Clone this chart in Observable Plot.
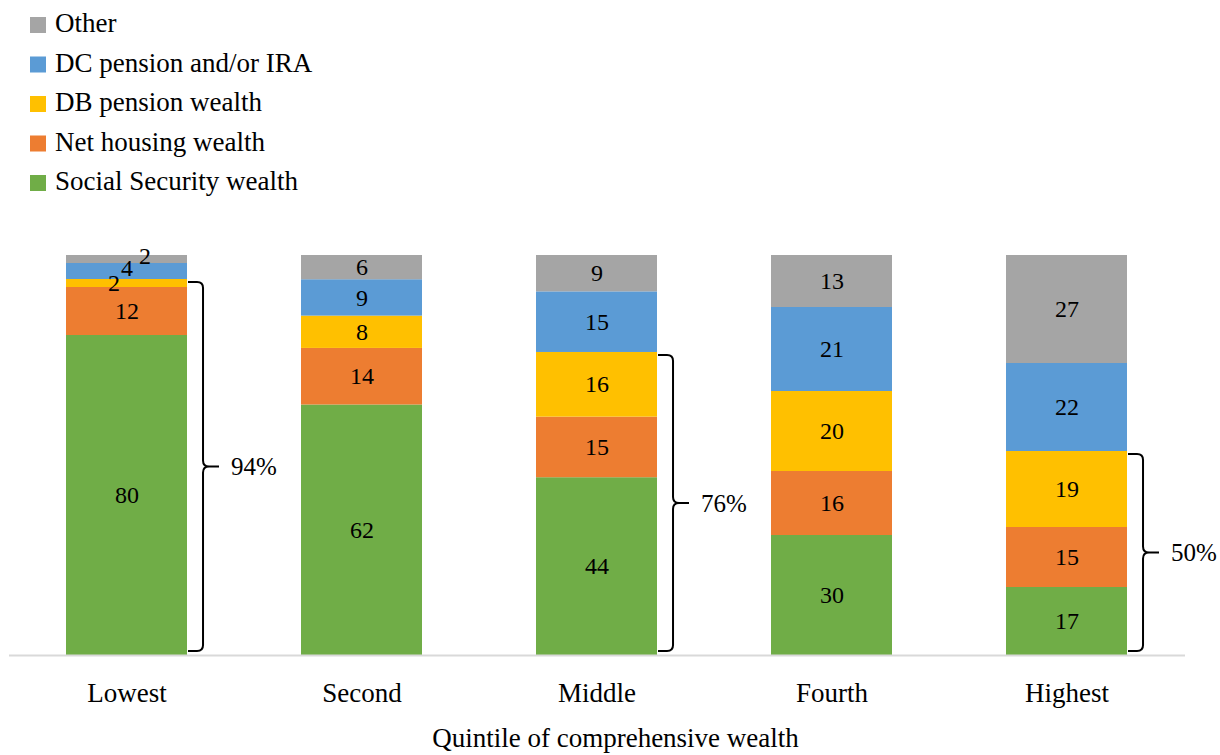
<!DOCTYPE html>
<html>
<head>
<meta charset="utf-8">
<script src="https://cdn.jsdelivr.net/npm/d3@7"></script>
<script src="https://cdn.jsdelivr.net/npm/@observablehq/plot@0.6"></script>
<style>
  html, body { margin: 0; padding: 0; background: #fff; }
  body { width: 1220px; height: 755px; overflow: hidden; }
  #legend svg, #chart svg { display: block; }
</style>
</head>
<body>
<div id="legend"></div>
<div id="chart"></div>
<script>
// ---- Data ----
const quintiles = ["Lowest", "Second", "Middle", "Fourth", "Highest"];
const seriesNames = ["Social Security wealth", "Net housing wealth", "DB pension wealth", "DC pension and/or IRA", "Other"];
const seriesColors = ["#70AD47", "#ED7D31", "#FFC000", "#5B9BD5", "#A5A5A5"];
const socialSecurity = [80, 62, 44, 30, 17];
const housing = [12, 14, 15, 16, 15];
const dbPension = [2, 8, 16, 20, 19];
const dcPension = [4, 9, 15, 21, 22];
const other = [2, 6, 9, 13, 27];
const bracketLabels = ["94%", null, "76%", null, "50%"];
const xTitle = "Quintile of comprehensive wealth";

const seriesValues = [socialSecurity, housing, dbPension, dcPension, other];
const rows = [];
seriesNames.forEach((s, si) => {
  quintiles.forEach((q, qi) => {
    rows.push({ quintile: q, series: s, value: seriesValues[si][qi] });
  });
});

const FONT = "'Liberation Serif', 'Times New Roman', serif";

// ---- Legend (SVG above the chart) ----
const leg = d3.select("#legend").append("svg")
  .attr("width", 1220).attr("height", 200)
  .attr("font-family", FONT);
const legendOrder = seriesNames.map((_, i) => i).reverse();
legendOrder.forEach((si, row) => {
  const base = 32 + row * 39.5;
  leg.append("rect").attr("x", 30).attr("y", base - 15).attr("width", 16).attr("height", 16)
    .attr("fill", seriesColors[si]);
  leg.append("text").attr("x", 55).attr("y", base).attr("font-size", 27).attr("fill", "#000")
    .text(seriesNames[si]);
});

// ---- Chart ----
const padInner = 0.485;
const isSmall = (d) => d.quintile === "Lowest" && d.value <= 4;
const only = (name) => (d) => (d.quintile === "Lowest" && d.series === name) ? String(d.value) : null;

const stack = (extra) => Plot.stackY({
  x: "quintile", y: "value", z: "series", order: seriesNames, offset: "normalize", ...extra
});

function brackets(index, scales) {
  const g = d3.create("svg:g");
  const sx = scales.x, sy = scales.y;
  const step = sx(quintiles[1]) - sx(quintiles[0]);
  const bw = step * (1 - padInner);
  quintiles.forEach((q, i) => {
    if (!bracketLabels[i]) return;
    const sum = seriesValues.reduce((a, arr) => a + arr[i], 0);
    const part = (socialSecurity[i] + housing[i] + dbPension[i]) / sum;
    const x0 = sx(q) + bw + 1;
    const xv = x0 + 15;
    const r = 6;
    const yTop = sy(part) + 3;
    const yBot = sy(0) - 4;
    const ym = (yTop + yBot) / 2;
    const d = `M${x0},${yTop} L${xv - r},${yTop} Q${xv},${yTop} ${xv},${yTop + r} L${xv},${ym - r} Q${xv},${ym} ${xv + r},${ym} L${xv + 16},${ym} M${xv + r},${ym} Q${xv},${ym} ${xv},${ym + r} L${xv},${yBot - r} Q${xv},${yBot} ${xv - r},${yBot} L${x0},${yBot}`;
    g.append("path").attr("d", d).attr("fill", "none").attr("stroke", "#000").attr("stroke-width", 2);
    g.append("text")
      .attr("x", xv + 28).attr("y", ym).attr("dy", "0.35em")
      .attr("text-anchor", "start")
      .attr("font-size", 25).attr("fill", "#000")
      .text(bracketLabels[i]);
  });
  return g.node();
}

const chart = Plot.plot({
  width: 1220,
  height: 555,
  marginTop: 55,
  marginBottom: 100,
  marginLeft: 9,
  marginRight: 35,
  style: { fontFamily: FONT, fontSize: "24px", color: "#000", background: "#fff" },
  x: { domain: quintiles, paddingInner: padInner, paddingOuter: padInner / 2, label: null },
  y: { domain: [0, 1], axis: null },
  color: { domain: seriesNames, range: seriesColors },
  marks: [
    Plot.barY(rows, stack({ fill: "series" })),
    Plot.ruleY([0], { stroke: "#d9d9d9", strokeWidth: 2 }),
    Plot.axisX({ tickSize: 0, tickPadding: 27, fontSize: 27, label: null }),
    Plot.text(rows, stack({ text: (d) => isSmall(d) ? null : String(d.value), fill: "#000", fontSize: 24 })),
    Plot.text(rows, stack({ text: only("DB pension wealth"), fill: "#000", fontSize: 24, dx: -13 })),
    Plot.text(rows, stack({ text: only("DC pension and/or IRA"), fill: "#000", fontSize: 24, dy: -3 })),
    Plot.text(rows, stack({ text: only("Other"), fill: "#000", fontSize: 24, dx: 18, dy: -3 })),
    Plot.text([xTitle], { frameAnchor: "bottom", text: (d) => d, lineAnchor: "top", dy: 72, dx: 18, fontSize: 27, fill: "#000" }),
    brackets
  ]
});
document.getElementById("chart").appendChild(chart);
</script>
</body>
</html>
